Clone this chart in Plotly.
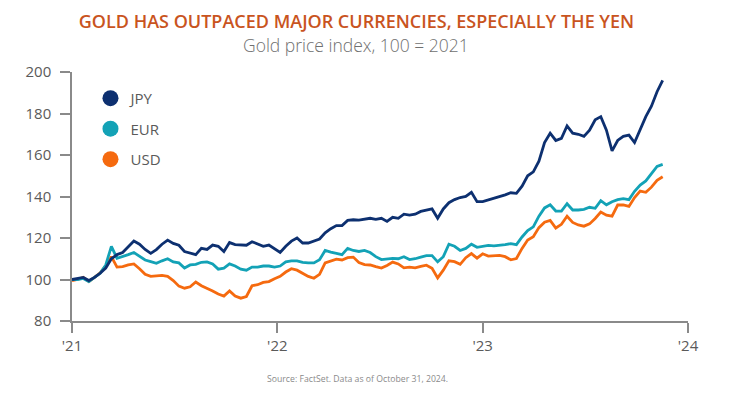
import pandas as pd
import plotly.graph_objects as go

# 10-day sampling of the index, starting at the 2021 base
dates = pd.date_range("2021-01-01", periods=106, freq="10D")

jpy = [100, 100.5, 101, 99.5, 101, 103, 105.5, 110, 112, 113,
       116, 118.5, 117, 114.5, 112.6, 114.4, 117, 119, 117.4, 116.5,
       113.5, 112.8, 112, 115, 114.5, 116.6, 116, 113.5, 117.8, 116.8,
       116.5, 116.5, 118.2, 117, 116, 116.6, 115, 113, 116, 118.5,
       120, 117.6, 117.6, 118.4, 119.5, 122.5, 124.5, 126, 126, 128.5,
       128.8, 128.6, 129, 129.5, 129, 129.5, 128, 130, 129.5, 131.5,
       131, 131.5, 132.8, 133.5, 134, 129.5, 134, 137, 138.5, 139.5,
       140, 142, 137.5, 137.5, 138.3, 139, 140, 140.8, 141.8, 141.5,
       145, 150, 151.9, 157, 166, 170.5, 167, 168, 174, 170.5,
       170, 169, 172, 177, 178.5, 172, 162, 167, 169, 169.6,
       166, 172, 178.5, 183.5, 190.5, 196]

eur = [100, 100, 100.5, 99, 101, 103, 107, 116, 110.2, 111,
       112, 113, 111, 109.4, 108.6, 107.8, 109, 110, 108.5, 108,
       105.5, 107, 107.3, 108.3, 108.5, 107.5, 105, 105.5, 107.5, 106.5,
       105, 104.5, 106, 106, 106.5, 106.5, 106, 106.5, 108.5, 109,
       109, 108.3, 108, 108, 109.5, 114, 113.2, 112.6, 112, 115,
       114, 113.5, 114, 113, 111, 109.6, 110, 110.2, 110, 111,
       109.6, 110, 110.8, 111.5, 111.5, 108.5, 111, 117, 116, 114,
       115, 117, 115.5, 116, 116.4, 116.2, 116.4, 116.8, 117.3, 116.8,
       120.5, 123.6, 125.4, 130.5, 134.5, 136, 133, 133, 136.5, 133.5,
       133.5, 133.8, 134.8, 134.3, 138, 136, 137.5, 138.5, 139, 138.5,
       142.5, 145.5, 147.5, 151, 154.5, 155.5]

usd = [99.5, 100, 101, 99, 101, 103.2, 106.5, 111, 106, 106.2,
       107, 107.5, 105.2, 102.5, 101.5, 101.8, 102, 101.5, 99.5, 96.8,
       95.8, 96.5, 98.8, 97, 95.8, 94.5, 93, 92, 94.5, 92,
       91, 91.8, 97, 97.5, 98.6, 99, 100.4, 101.5, 103.6, 105.2,
       104.5, 103, 101.5, 100.6, 102.5, 108, 109, 109.8, 109.4, 110.5,
       110.8, 108.2, 107.2, 107, 106.2, 105.5, 106.8, 108.4, 107.5, 105.6,
       106, 105.6, 106.3, 106.9, 105.4, 100.8, 104.5, 109, 108.6, 107.3,
       110.5, 112.5, 110.3, 112.4, 111.3, 111.4, 111.6, 111, 109.5, 110.1,
       115, 119, 120.6, 125, 127.6, 128.5, 124.8, 126.6, 130.5, 127.5,
       126.3, 125.7, 126.8, 129.4, 132.5, 131, 130.5, 135.9, 135.9, 135.2,
       139.5, 142.6, 142, 144.5, 147.8, 149.5]

series_names = ["JPY", "EUR", "USD"]
series_values = [jpy, eur, usd]
series_colors = ["#0D3070", "#13A2B6", "#F56A0F"]

tick_dates = ["2021-01-01", "2022-01-01", "2023-01-01", "2024-01-01"]
tick_labels = ["'21", "'22", "'23", "'24"]
y_ticks = [80, 100, 120, 140, 160, 180, 200]

FONT = "Open Sans"
GRAY = "#5a5a5a"

fig = go.Figure()

# data lines (drawn so that JPY is on top)
for name, vals, col in reversed(list(zip(series_names, series_values, series_colors))):
    fig.add_trace(go.Scatter(x=dates, y=vals, mode="lines", name=name,
                             line=dict(color=col, width=2.8),
                             showlegend=False))

# legend entries as big dots
for name, col in zip(series_names, series_colors):
    fig.add_trace(go.Scatter(x=[None], y=[None], mode="markers", name=name,
                             marker=dict(color=col, size=20),
                             legendgroup=name, showlegend=True))

fig.update_layout(
    width=732, height=395,
    margin=dict(l=72, r=44, t=72, b=74, autoexpand=False),
    paper_bgcolor="white", plot_bgcolor="white",
    font=dict(family=FONT, color=GRAY, size=15),
    title=dict(text="GOLD HAS OUTPACED MAJOR CURRENCIES, ESPECIALLY THE YEN",
               x=0.487, xanchor="center", xref="container",
               y=1 - 22 / 395, yanchor="middle", yref="container",
               font=dict(family=FONT, size=18, color="#C9541E", weight=600)),
    showlegend=True,
    legend=dict(x=0.03, y=0.96, xanchor="left", yanchor="top",
                bgcolor="rgba(0,0,0,0)", traceorder="grouped",
                tracegroupgap=8, itemsizing="trace",
                font=dict(family=FONT, size=15, color=GRAY)),
    xaxis=dict(type="date", range=["2021-01-01", "2024-01-01"],
               tickvals=tick_dates, ticktext=tick_labels,
               showgrid=False, zeroline=False, automargin=False,
               showline=True, linecolor="#8a8a8a", linewidth=1.5,
               ticks="outside", ticklen=10, tickwidth=1.5, tickcolor="#8a8a8a",
               tickfont=dict(family=FONT, size=15, color=GRAY)),
    yaxis=dict(range=[80, 200], tickvals=y_ticks,
               showgrid=False, zeroline=False, automargin=False,
               showline=True, linecolor="#8a8a8a", linewidth=1.5,
               ticks="outside", ticklen=10, tickwidth=1.5, tickcolor="#8a8a8a",
               ticklabelstandoff=6,
               tickfont=dict(family=FONT, size=15, color=GRAY)),
    annotations=[
        dict(text="Gold price index, 100 = 2021", xref="paper", yref="paper",
             x=0.461, y=(321 - 45) / 249, xanchor="center", yanchor="middle",
             showarrow=False,
             font=dict(family=FONT, size=17.5, color="#707070", weight=300)),
        dict(text="Source: FactSet. Data as of October 31, 2024.",
             xref="paper", yref="paper", x=0.463, y=(321 - 379) / 249,
             xanchor="center", yanchor="middle", showarrow=False,
             font=dict(family=FONT, size=8.7, color="#8a8a8a")),
    ],
)

fig.write_html("out.html", config={"displayModeBar": False})

# remove the browser's default page margin so the figure sits at the window origin
with open("out.html", "r", encoding="utf-8") as f:
    html = f.read()
html = html.replace("<body>", '<body style="margin:0">', 1)
with open("out.html", "w", encoding="utf-8") as f:
    f.write(html)
